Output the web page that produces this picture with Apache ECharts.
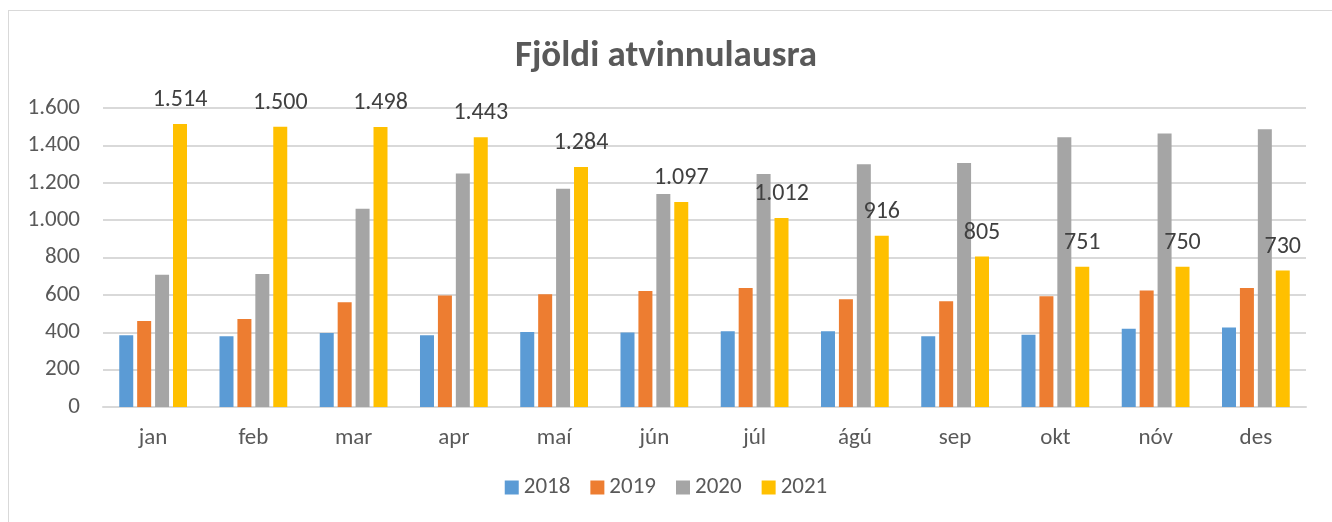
<!DOCTYPE html>
<html>
<head>
<meta charset="utf-8">
<script src="https://cdn.jsdelivr.net/npm/echarts@6/dist/echarts.min.js"></script>
<style>
  html, body { margin: 0; padding: 0; background: #fff; }
  #frame { position: absolute; left: 8px; top: 10px; width: 1340px; height: 540px; border: 1px solid #d9d9d9; }
  #chart { position: absolute; left: 0; top: 0; width: 1332px; height: 522px; }
</style>
</head>
<body>
<div id="frame"></div>
<div id="chart"></div>
<script>
  // mánuðir og gildi lesin af myndinni
  var months = ['jan', 'feb', 'mar', 'apr', 'maí', 'jún', 'júl', 'ágú', 'sep', 'okt', 'nóv', 'des'];
  var years = ['2018', '2019', '2020', '2021'];
  var v2018 = [384, 378, 396, 384, 401, 398, 405, 405, 378, 387, 419, 426];
  var v2019 = [460, 471, 560, 596, 603, 621, 637, 576, 566, 592, 624, 637];
  var v2020 = [708, 712, 1061, 1249, 1168, 1140, 1247, 1299, 1306, 1443, 1464, 1486];
  var v2021 = [1514, 1500, 1498, 1443, 1284, 1097, 1012, 916, 805, 751, 750, 730];
  var colors = ['#5B9BD5', '#ED7D31', '#A5A5A5', '#FFC000'];

  var font = 'Carlito, Lato, "Open Sans", sans-serif';

  // punktur sem þúsundaskil
  function fmt(n) {
    return String(n).replace(/\B(?=(\d{3})+(?!\d))/g, '.');
  }

  var allData = [v2018, v2019, v2020, v2021];
  var series = [];
  for (var i = 0; i < years.length; i++) {
    var s = {
      name: years[i],
      type: 'bar',
      data: allData[i],
      barWidth: 14,
      barGap: '28%',
      itemStyle: { color: colors[i] }
    };
    if (i == 3) {
      s.label = {
        show: true,
        position: 'top',
        distance: 12,
        color: '#404040',
        fontFamily: font,
        fontSize: 24,
        formatter: function (p) { return fmt(p.value); }
      };
    }
    series.push(s);
  }

  var chart = echarts.init(document.getElementById('chart'));
  chart.setOption({
    animation: false,
    textStyle: { fontFamily: font },
    title: {
      text: 'Fjöldi atvinnulausra',
      left: 'center',
      top: 33,
      textStyle: { color: '#595959', fontSize: 37, fontWeight: 'bold', fontFamily: font }
    },
    legend: {
      data: years,
      bottom: 18,
      left: 'center',
      itemWidth: 14,
      itemHeight: 14,
      itemGap: 20,
      icon: 'rect',
      textStyle: { color: '#595959', fontSize: 23, fontFamily: font }
    },
    grid: { left: 103, right: 26, top: 108, bottom: 115 },
    xAxis: {
      type: 'category',
      data: months,
      axisLine: { lineStyle: { color: '#d9d9d9', width: 2 } },
      axisTick: { show: false },
      axisLabel: { color: '#595959', fontSize: 23, margin: 20, fontFamily: font }
    },
    yAxis: {
      type: 'value',
      min: 0,
      max: 1600,
      interval: 200,
      axisLine: { show: false },
      axisTick: { show: false },
      splitLine: { lineStyle: { color: '#d9d9d9', width: 2 } },
      axisLabel: {
        color: '#595959', fontSize: 23, margin: 23, fontFamily: font,
        formatter: function (v) { return fmt(v); }
      }
    },
    series: series
  });
</script>
</body>
</html>
